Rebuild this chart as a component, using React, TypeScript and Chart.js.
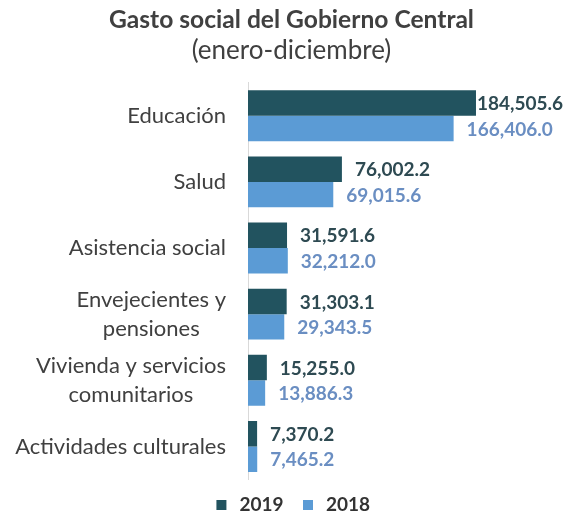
import React, { useEffect, useRef } from "react";
import { Chart, registerables } from "chart.js";

Chart.register(...registerables);

const categories: (string | string[])[] = [
  "Educación",
  "Salud",
  "Asistencia social",
  ["Envejecientes y", "pensiones"],
  ["Vivienda y servicios", "comunitarios"],
  "Actividades culturales",
];
const values2019 = [184505.6, 76002.2, 31591.6, 31303.1, 15255.0, 7370.2];
const values2018 = [166406.0, 69015.6, 32212.0, 29343.5, 13886.3, 7465.2];
const seriesNames = ["2019", "2018"];

const FONT = "Lato, 'Liberation Sans', sans-serif";
const COLOR_2019 = "#22535f";
const COLOR_2018 = "#5b9bd5";
const LABEL_2019 = "#2e4a52";
const LABEL_2018 = "#6a8ec2";
const TEXT = "#404040";
const TICK_SIZE = 22;
const TICK_LH = 1.32;
const TICK_PAD = 22;

const fmt = (v: number) =>
  v.toLocaleString("en-US", { minimumFractionDigits: 1, maximumFractionDigits: 1 });

const valueLabels = {
  id: "valueLabels",
  afterDatasetsDraw(chart: any) {
    const ctx = chart.ctx;
    ctx.save();
    ctx.font = `bold 19px ${FONT}`;
    ctx.textBaseline = "middle";
    ctx.textAlign = "left";
    chart.data.datasets.forEach((ds: any, i: number) => {
      const meta = chart.getDatasetMeta(i);
      ctx.fillStyle = i === 0 ? LABEL_2019 : LABEL_2018;
      meta.data.forEach((bar: any, j: number) => {
        const text = fmt(ds.data[j]);
        const w = ctx.measureText(text).width;
        let x = bar.x + 13;
        if (x + w > chart.width - 8) x = Math.max(bar.x + 1, chart.width - 8 - w);
        ctx.fillText(text, x, bar.y + 1);
      });
    });
    ctx.restore();
  },
};

// Category labels: block right-aligned to the axis, lines centred within the block
const categoryLabels = {
  id: "categoryLabels",
  afterDraw(chart: any) {
    const scale = chart.scales.y;
    const ctx = chart.ctx;
    ctx.save();
    ctx.font = `${TICK_SIZE}px ${FONT}`;
    ctx.fillStyle = TEXT;
    ctx.textAlign = "center";
    ctx.textBaseline = "middle";
    const lh = TICK_SIZE * TICK_LH;
    scale.ticks.forEach((_t: any, i: number) => {
      const raw = chart.data.labels[i];
      const lines: string[] = Array.isArray(raw) ? raw : [raw];
      const maxW = Math.max(...lines.map((l) => ctx.measureText(l).width));
      const cx = scale.right - TICK_PAD - maxW / 2;
      const y = scale.getPixelForTick(i);
      const y0 = y - ((lines.length - 1) * lh) / 2;
      lines.forEach((l, k) => ctx.fillText(l, cx, y0 + k * lh));
    });
    ctx.restore();
  },
};

export default function App() {
  const ref = useRef<HTMLCanvasElement>(null);
  useEffect(() => {
    if (!ref.current) return;
    const chart = new Chart(ref.current, {
      type: "bar",
      data: {
        labels: categories,
        datasets: [
          { label: seriesNames[0], data: values2019, backgroundColor: COLOR_2019 },
          { label: seriesNames[1], data: values2018, backgroundColor: COLOR_2018 },
        ],
      },
      options: {
        indexAxis: "y",
        animation: false,
        responsive: false,
        maintainAspectRatio: false,
        layout: { padding: { left: 12, right: 0, bottom: -12 } },
        datasets: { bar: { barPercentage: 1, categoryPercentage: 0.77 } },
        scales: {
          x: { display: false, min: 0, max: 261400 },
          y: {
            grid: { display: false, drawTicks: false },
            border: { display: true, color: "#d9d9d9", width: 1 },
            ticks: {
              color: "rgba(0,0,0,0)",
              font: { family: FONT, size: TICK_SIZE, lineHeight: TICK_LH },
              padding: TICK_PAD,
            },
            afterFit(scale: any) {
              scale.width = 236;
            },
          },
        },
        plugins: {
          tooltip: { enabled: false },
          title: {
            display: true,
            text: "Gasto social del Gobierno Central",
            color: TEXT,
            font: { family: FONT, size: 24.6, weight: "bold" },
            padding: { top: 5, bottom: 0 },
          },
          subtitle: {
            display: true,
            text: "(enero-diciembre)",
            color: TEXT,
            font: { family: FONT, size: 26, weight: "normal" },
            padding: { top: 0, bottom: 17 },
          },
          legend: {
            position: "bottom",
            labels: {
              color: "#333333",
              font: { family: FONT, size: 19, weight: "bold" },
              usePointStyle: true,
              pointStyle: "rect",
              boxWidth: 17,
              boxHeight: 10,
              padding: 16,
            },
          },
        },
      },
      plugins: [valueLabels, categoryLabels],
    });
    return () => chart.destroy();
  }, []);
  return (
    <div style={{ position: "fixed", left: 0, top: 0, width: 571, height: 516, background: "#fff" }}>
      <canvas ref={ref} width={571} height={516} style={{ width: 571, height: 516 }} />
    </div>
  );
}
